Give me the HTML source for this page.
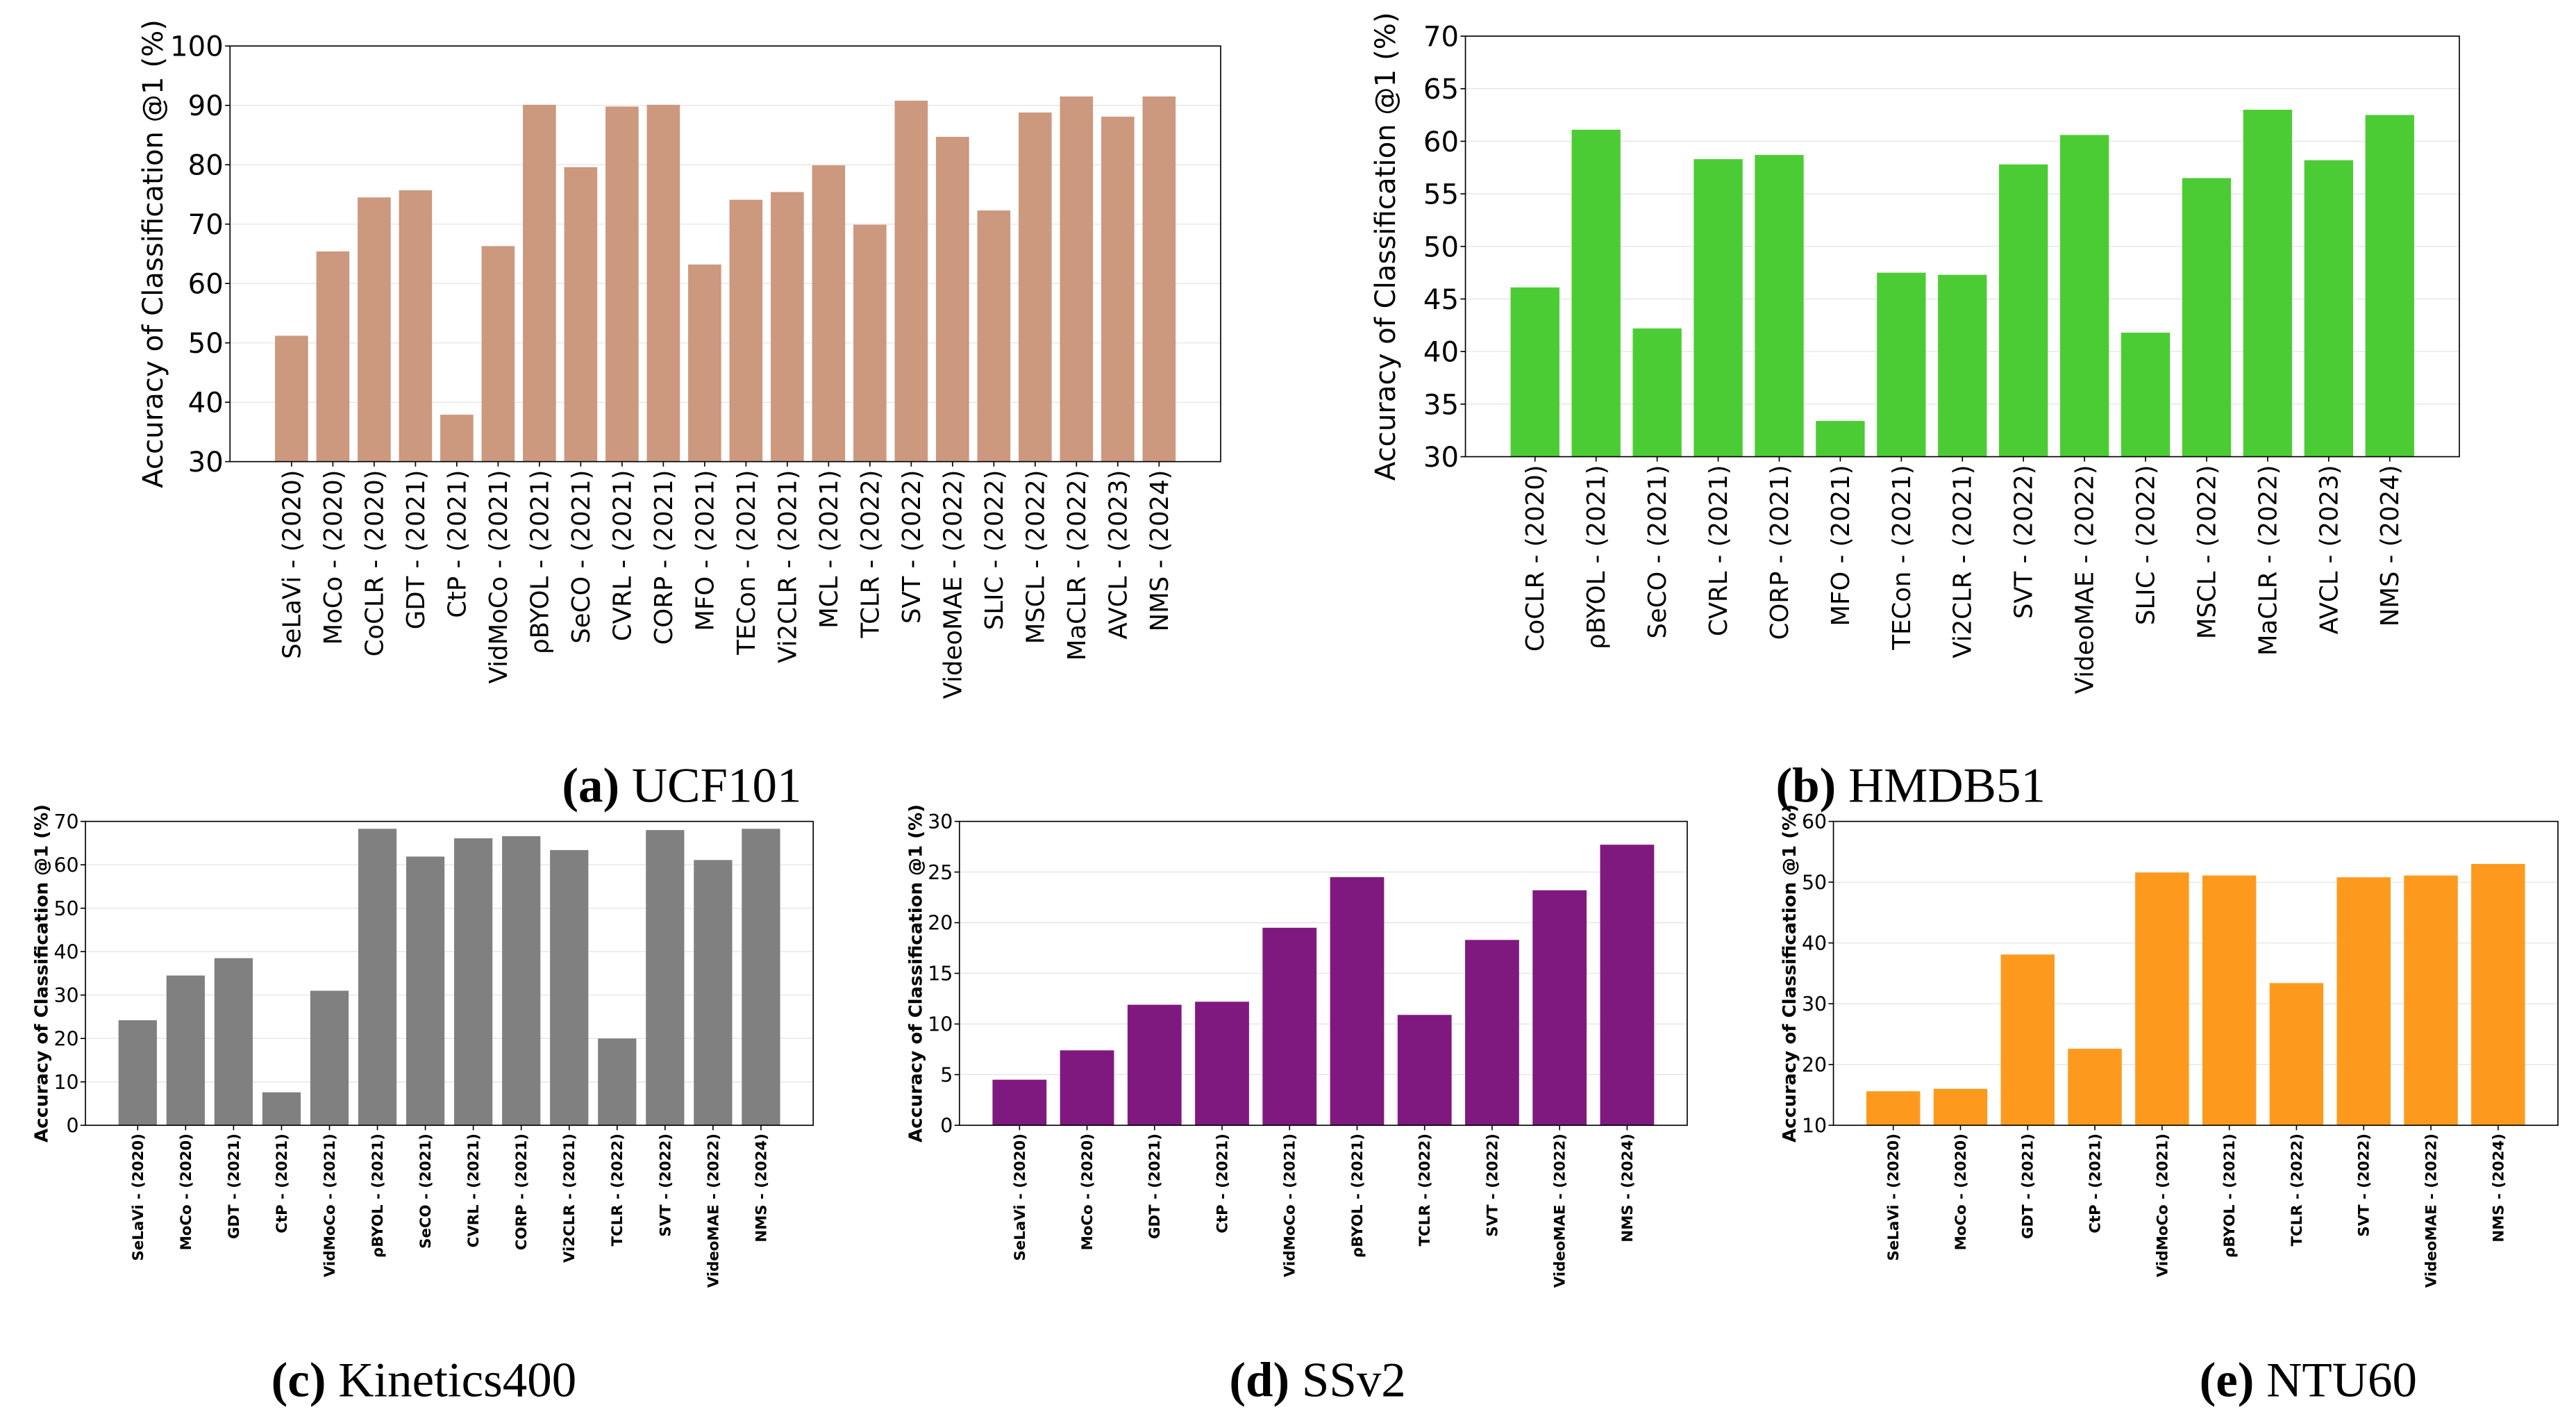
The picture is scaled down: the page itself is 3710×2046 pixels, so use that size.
<!DOCTYPE html>
<html><head><meta charset="utf-8"><style>
html,body{margin:0;padding:0;background:#fff;}
svg{display:block;}
</style></head><body>
<svg id="fig" width="3710" height="2046" viewBox="0 0 1568 865" preserveAspectRatio="none" xmlns="http://www.w3.org/2000/svg" font-family="'DejaVu Sans','Liberation Sans',sans-serif"></svg>
<script>
const ucfCats=["SeLaVi - (2020)","MoCo - (2020)","CoCLR - (2020)","GDT - (2021)","CtP - (2021)","VidMoCo - (2021)","ρBYOL - (2021)","SeCO - (2021)","CVRL - (2021)","CORP - (2021)","MFO - (2021)","TECon - (2021)","Vi2CLR - (2021)","MCL - (2021)","TCLR - (2022)","SVT - (2022)","VideoMAE - (2022)","SLIC - (2022)","MSCL - (2022)","MaCLR - (2022)","AVCL - (2023)","NMS - (2024)"];
const ucfVals=[51.2,65.4,74.5,75.7,37.9,66.3,90.1,79.6,89.8,90.1,63.2,74.1,75.4,79.9,69.9,90.8,84.7,72.3,88.8,91.5,88.1,91.5];
const ucfTicks=[30,40,50,60,70,80,90,100];
const hmdbCats=["CoCLR - (2020)","ρBYOL - (2021)","SeCO - (2021)","CVRL - (2021)","CORP - (2021)","MFO - (2021)","TECon - (2021)","Vi2CLR - (2021)","SVT - (2022)","VideoMAE - (2022)","SLIC - (2022)","MSCL - (2022)","MaCLR - (2022)","AVCL - (2023)","NMS - (2024)"];
const hmdbVals=[46.1,61.1,42.2,58.3,58.7,33.4,47.5,47.3,57.8,60.6,41.8,56.5,63.0,58.2,62.5];
const hmdbTicks=[30,35,40,45,50,55,60,65,70];
const k400Cats=["SeLaVi - (2020)","MoCo - (2020)","GDT - (2021)","CtP - (2021)","VidMoCo - (2021)","ρBYOL - (2021)","SeCO - (2021)","CVRL - (2021)","CORP - (2021)","Vi2CLR - (2021)","TCLR - (2022)","SVT - (2022)","VideoMAE - (2022)","NMS - (2024)"];
const k400Vals=[24.2,34.5,38.5,7.6,31.0,68.3,61.9,66.1,66.6,63.4,20.0,68.0,61.1,68.3];
const k400Ticks=[0,10,20,30,40,50,60,70];
const ssCats=["SeLaVi - (2020)","MoCo - (2020)","GDT - (2021)","CtP - (2021)","VidMoCo - (2021)","ρBYOL - (2021)","TCLR - (2022)","SVT - (2022)","VideoMAE - (2022)","NMS - (2024)"];
const ssVals=[4.5,7.4,11.9,12.2,19.5,24.5,10.9,18.3,23.2,27.7];
const ssTicks=[0,5,10,15,20,25,30];
const ntuCats=["SeLaVi - (2020)","MoCo - (2020)","GDT - (2021)","CtP - (2021)","VidMoCo - (2021)","ρBYOL - (2021)","TCLR - (2022)","SVT - (2022)","VideoMAE - (2022)","NMS - (2024)"];
const ntuVals=[15.6,16.0,38.1,22.6,51.6,51.1,33.4,50.8,51.1,53.0];
const ntuTicks=[10,20,30,40,50,60];

const NS="http://www.w3.org/2000/svg";
const svg=document.getElementById('fig');
function mk(tag,attrs,parent){const e=document.createElementNS(NS,tag);for(const k in attrs)e.setAttribute(k,attrs[k]);(parent||svg).appendChild(e);return e;}

function chart(id,cats,vals,ticks,L,R,T,B,color,tickFs,labFs,ylabFs,ylabX,bold,capText,capBold,capX,capY){
  const g=mk('g',{});
  
  
  const n=cats.length;
  const span=(n-1)+0.8, m=0.05*span;
  const x0=-0.4-m, x1=n-1+0.4+m;
  const ymin=ticks[0], ymax=ticks[ticks.length-1];
  const xs=i=>L+(i-x0)/(x1-x0)*(R-L);
  const ys=v=>B-(v-ymin)/(ymax-ymin)*(B-T);
  const bw=0.8/(x1-x0)*(R-L);
  const fw=bold?'bold':'normal';
  ticks.forEach(t=>{
    const gl=mk('line',{x1:L,x2:R,y1:ys(t),y2:ys(t),stroke:'#e6e6e6','stroke-width':0.6},g);
    
    
    const tk=mk('line',{x1:L-3,x2:L,y1:ys(t),y2:ys(t),stroke:'#000','stroke-width':0.7},g);
    
    
    const tl=mk('text',{x:L-4,y:ys(t)+tickFs*0.36,'font-size':tickFs,'text-anchor':'end',fill:'#000'},g);
    tl.textContent=t;
    
    
  });
  vals.forEach((v,i)=>{
    const r=mk('rect',{x:xs(i)-bw/2,y:ys(v),width:bw,height:ys(ymin)-ys(v),fill:color},g);
    
    
    const tk=mk('line',{x1:xs(i),x2:xs(i),y1:B,y2:B+3,stroke:'#000','stroke-width':0.7},g);
    
    
    const tx=xs(i)+labFs*0.35, ty=B+5;
    const tl=mk('text',{x:tx,y:ty,'font-size':labFs,'font-weight':fw,'text-anchor':'end',transform:`rotate(-90 ${tx} ${ty})`,fill:'#000'},g);
    tl.textContent=cats[i];
    
    
  });
  const fr=mk('rect',{x:L,y:T,width:R-L,height:B-T,fill:'none',stroke:'#000','stroke-width':0.7},g);
  
  
  const cy=(T+B)/2;
  const yl=mk('text',{x:ylabX,y:cy,'font-size':ylabFs,'font-weight':fw,'text-anchor':'middle',transform:`rotate(-90 ${ylabX} ${cy})`,fill:'#000'},g);
  yl.textContent='Accuracy of Classification @1 (%)';
  
  
  const cap=mk('text',{x:capX,y:capY,'font-size':30,'text-anchor':'middle','font-family':"'Liberation Serif',serif",fill:'#000'},g);
  const b=mk('tspan',{'font-weight':'bold'},cap);b.textContent=capBold;
  const s=mk('tspan',{},cap);s.textContent=' '+capText;
  
  
}
chart('ucf101',ucfCats,ucfVals,ucfTicks,140,743,28,281,'#cc987e',17,15,17,99,false,'UCF101','(a)',415,488);
chart('hmdb51',hmdbCats,hmdbVals,hmdbTicks,892,1497,22,278,'#4ccc34',17,15,17,849,false,'HMDB51','(b)',1163,488);
chart('kinetics400',k400Cats,k400Vals,k400Ticks,52,495,500,685,'#808080',12,9,11,29,true,'Kinetics400','(c)',258,850);
chart('ssv2',ssCats,ssVals,ssTicks,584,1027,500,685,'#80197f',12,9,11,561,true,'SSv2','(d)',802,850);
chart('ntu60',ntuCats,ntuVals,ntuTicks,1116,1557,500,685,'#fd9a1e',12,9,11,1093,true,'NTU60','(e)',1405,850);
</script>
</body></html>
